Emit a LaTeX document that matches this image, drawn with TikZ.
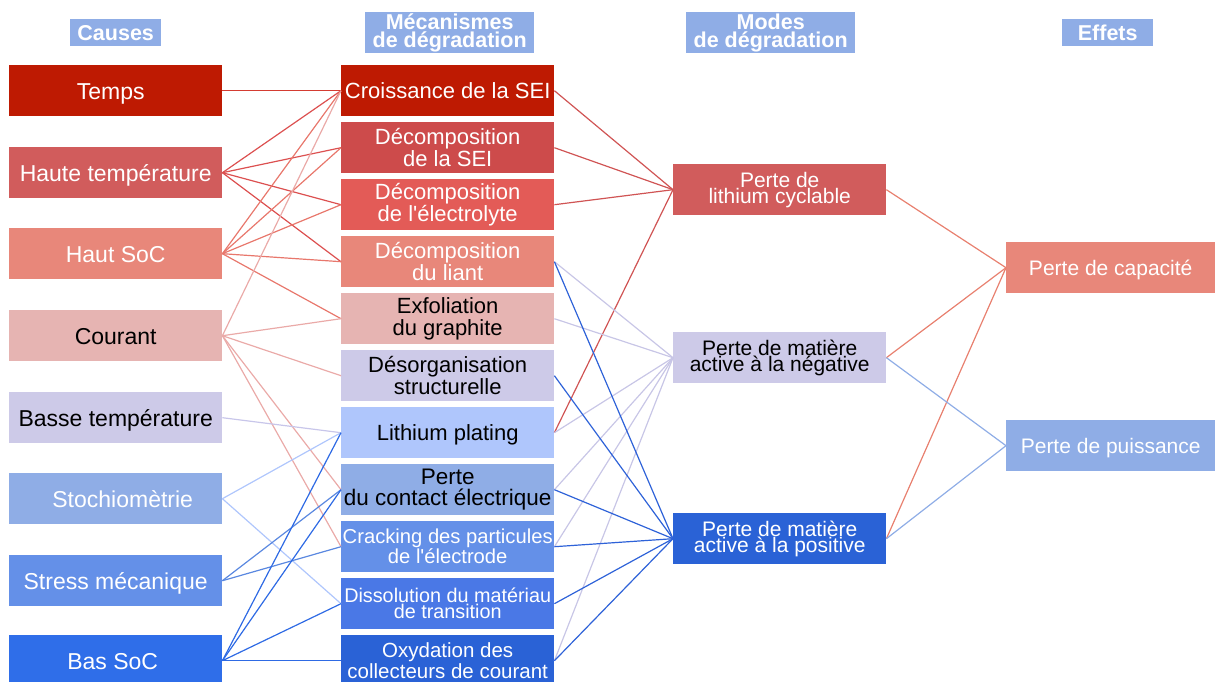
\documentclass[tikz,border=0pt]{standalone}
\usepackage{fontspec}
\setmainfont{Liberation Sans}[Ligatures=TeXOff]
\definecolor{cTemps}{HTML}{BE1A02}
\definecolor{cHT}{HTML}{D15C5C}
\definecolor{cSEI}{HTML}{CD4B4B}
\definecolor{cElec}{HTML}{E35B57}
\definecolor{cHS}{HTML}{E8877A}
\definecolor{cCour}{HTML}{E6B4B2}
\definecolor{cLav}{HTML}{CDCAE8}
\definecolor{cPlat}{HTML}{AFC6FC}
\definecolor{cSto}{HTML}{8FADE6}
\definecolor{cStr}{HTML}{6490E8}
\definecolor{cDis}{HTML}{4A78E6}
\definecolor{cBas}{HTML}{2F6EE9}
\definecolor{cOxy}{HTML}{2A62D6}
\definecolor{lTemps}{HTML}{D43C32}
\definecolor{lHT}{HTML}{DC5050}
\definecolor{lHS}{HTML}{E8776C}
\definecolor{lCour}{HTML}{EAAAA8}
\definecolor{lBasse}{HTML}{C8C6EA}
\definecolor{lSto}{HTML}{AFC6FC}
\definecolor{lStr}{HTML}{5A88E0}
\definecolor{lBas}{HTML}{2E6AE4}
\definecolor{lLith}{HTML}{D05454}
\definecolor{lNeg}{HTML}{C8C6E6}
\definecolor{lPos}{HTML}{2E62D8}
\definecolor{lCap}{HTML}{E8806F}
\definecolor{lPuis}{HTML}{8FADE6}
\tikzset{
  box/.style={rectangle, inner sep=0pt, minimum width=213pt, minimum height=51pt,
    anchor=north west, align=center, text=white},
  lft/.style={box, font=\fontsize{23}{20}\selectfont, text height=17.5pt, text depth=0pt},
  mid/.style={box, font=\fontsize{22}{20.5}\selectfont},
  midone/.style={mid, text height=16.5pt, text depth=0pt},
  mode/.style={box, font=\fontsize{21}{16}\selectfont},
  eff/.style={box, minimum width=209pt, font=\fontsize{21}{18}\selectfont, text height=15.5pt, text depth=0pt},
  hdr/.style={rectangle, inner sep=0pt, fill=cSto, text=white, anchor=north west,
    align=center, font=\bfseries\fontsize{21.5}{18}\selectfont},
  ln/.style={line width=1.2pt}
}
\begin{document}
\begin{tikzpicture}[x=1pt,y=1pt]
\useasboundingbox (0,0) rectangle (1215,-682);
\clip (0,0) rectangle (1215,-682);
% headers
\node[hdr, minimum width=91pt, minimum height=27pt] (h1) at (70,-19) {Causes};
\node[hdr, minimum width=169pt, minimum height=41pt] (h2) at (365,-12) {Mécanismes\\de dégradation};
\node[hdr, minimum width=169pt, minimum height=41pt] (h3) at (686,-12) {Modes\\de dégradation};
\node[hdr, minimum width=91pt, minimum height=27pt] (h4) at (1062,-19) {Effets};
% causes
\node[lft, fill=cTemps] (temps) at (9,-65) {\hspace*{-10pt}Temps};
\node[lft, fill=cHT] (hautT) at (9,-147) {Haute température};
\node[lft, fill=cHS] (hautS) at (9,-228) {Haut SoC};
\node[lft, fill=cCour, text=black] (cour) at (9,-310) {Courant};
\node[lft, fill=cLav, text=black] (basse) at (9,-392) {Basse température};
\node[lft, fill=cSto] (stoch) at (9,-473) {\hspace*{14pt}Stochiomètrie};
\node[lft, fill=cStr] (stress) at (9,-555) {Stress mécanique};
\node[lft, fill=cBas] (bas) at (9,-635) {\hspace*{-6pt}Bas SoC};
% mecanismes
\node[midone, fill=cTemps] (crois) at (341,-65) {Croissance de la SEI};
\node[mid, fill=cSEI] (sei) at (341,-122) {Décomposition\\de la SEI};
\node[mid, fill=cElec] (elec) at (341,-179) {Décomposition\\de l'électrolyte};
\node[mid, fill=cHS] (liant) at (341,-236) {Décomposition\\du liant};
\node[mid, fill=cCour, text=black, font=\fontsize{22}{22}\selectfont] (exfo) at (341,-293) {Exfoliation\\du graphite};
\node[mid, fill=cLav, text=black, font=\fontsize{22}{22}\selectfont] (desorg) at (341,-350) {Désorganisation\\structurelle};
\node[midone, fill=cPlat, text=black] (plat) at (341,-407) {Lithium plating};
\node[mid, fill=cSto, text=black, font=\fontsize{22.5}{21}\selectfont] (contact) at (341,-464) {Perte\\du contact électrique};
\node[mid, fill=cStr, font=\fontsize{20.2}{20}\selectfont] (crack) at (341,-521) {Cracking des particules\\de l'électrode};
\node[mid, fill=cDis, font=\fontsize{19.8}{16}\selectfont] (dissol) at (341,-578) {Dissolution du matériau\\de transition};
\node[mid, fill=cOxy, font=\fontsize{20.5}{18}\selectfont] (oxy) at (341,-635) {Oxydation des\\collecteurs de courant};
% modes
\node[mode, fill=cHT] (lith) at (673,-164) {Perte de\\lithium cyclable};
\node[mode, fill=cLav, text=black] (neg) at (673,-332) {Perte de matière\\active à la négative};
\node[mode, fill=cOxy] (pos) at (673,-513) {Perte de matière\\active à la positive};
% effets
\node[eff, fill=cHS] (cap) at (1006,-242) {Perte de capacité};
\node[eff, fill=cSto] (puis) at (1006,-420) {Perte de puissance};
% causes -> mecanismes
\draw[ln, lTemps] (temps.east) -- (crois.west);
\foreach \t in {crois,sei,elec,liant} \draw[ln, lHT] (hautT.east) -- (\t.west);
\foreach \t in {crois,sei,elec,liant,exfo} \draw[ln, lHS] (hautS.east) -- (\t.west);
\foreach \t in {crois,exfo,desorg,contact,crack} \draw[ln, lCour] (cour.east) -- (\t.west);
\draw[ln, lBasse] (basse.east) -- (plat.west);
\foreach \t in {plat,dissol} \draw[ln, lSto] (stoch.east) -- (\t.west);
\foreach \t in {contact,crack} \draw[ln, lStr] (stress.east) -- (\t.west);
\foreach \t in {plat,contact,dissol,oxy} \draw[ln, lBas] (bas.east) -- (\t.west);
% mecanismes -> modes
\foreach \s in {crois,sei,elec,plat} \draw[ln, lLith] (\s.east) -- (lith.west);
\foreach \s in {liant,exfo,plat,contact,crack,oxy} \draw[ln, lNeg] (\s.east) -- (neg.west);
\foreach \s in {liant,desorg,contact,crack,dissol,oxy} \draw[ln, lPos] (\s.east) -- (pos.west);
% modes -> effets
\foreach \s in {lith,neg,pos} \draw[ln, lCap] (\s.east) -- (cap.west);
\foreach \s in {neg,pos} \draw[ln, lPuis] (\s.east) -- (puis.west);
\end{tikzpicture}
\end{document}
